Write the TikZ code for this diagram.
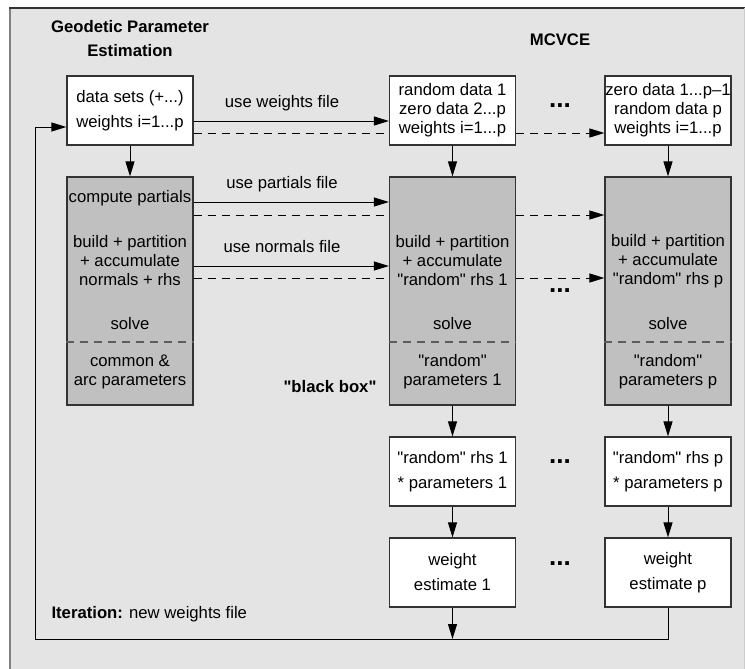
\documentclass[tikz,border=0pt]{standalone}
\usepackage{fontspec}
\setmainfont{Liberation Sans}[Ligatures=TeXOff]
\usetikzlibrary{arrows.meta}
\definecolor{panelgray}{HTML}{E4E4E4}
\definecolor{boxgray}{HTML}{C0C0C0}
\definecolor{edgegray}{HTML}{333333}
\tikzset{
  every node/.style={font=\fontsize{16.7}{19}\selectfont},
  whitebox/.style={draw=edgegray, fill=white, line width=1.2pt, minimum width=126pt,
    minimum height=69pt, inner sep=0pt, align=center},
  graybox/.style={whitebox, fill=boxgray, minimum height=228pt},
  twoline/.style={font=\fontsize{16.7}{25}\selectfont},
  headline/.style={font=\fontsize{16.7}{24}\selectfont\bfseries, align=center},
  flow/.style={-{Triangle[length=15pt,width=9pt]}, line width=1pt},
  dflow/.style={flow, dash pattern=on 8pt off 6pt},
  dline/.style={line width=1pt, dash pattern=on 8pt off 6pt},
  divider/.style={draw=edgegray!80, line width=1.1pt, dash pattern=on 8pt off 6pt},
  dots/.style={font=\fontsize{26}{26}\selectfont\bfseries}
}
\begin{document}
\begin{tikzpicture}[x=1pt, y=-1pt]
        \useasboundingbox (0,0) rectangle (745,669);
        % Panel
        \fill[panelgray] (9,7) rectangle (745,669);
        \draw[gray, line width=1.5pt] (9.75,669) -- (9.75,7);
        \draw[edgegray, line width=2pt] (9,8) -- (745,8);
        \draw[black!20, line width=1pt] (744,8) -- (744,669);

        % Titles
        \node[headline] (gpetitle) at (130,39) {Geodetic Parameter\\Estimation};
        \node[headline] (mcvcetitle) at (560,40) {MCVCE};
        \node[headline] (blackbox) at (330,387) {"black box"};

        % Top row
        \node[whitebox, twoline] (data) at (130,110.5) {data sets (+...)\\weights i=1...p};
        \node[whitebox] (rnd1) at (452.5,110.5) {random data 1\\zero data 2...p\\weights i=1...p};
        \node[whitebox] (rndp) at (668,110.5) {zero data 1...p–1\\random data p\\weights i=1...p};

        % Gray boxes
        \node[graybox] (gpe) at (130,291) {};
        \node[graybox] (sol1) at (452.5,291) {};
        \node[graybox] (solp) at (668,291) {};
        \draw[divider] (gpe.west |- 0,342) -- (gpe.east |- 0,342);
        \draw[divider] (sol1.west |- 0,342) -- (sol1.east |- 0,342);
        \draw[divider] (solp.west |- 0,342) -- (solp.east |- 0,342);

        \node (cpart) at (130,198) {compute partials};
        \node[align=center] (bpa) at (130,261) {build + partition\\+ accumulate\\normals + rhs};
        \node (solvegpe) at (130,324) {solve};
        \node[align=center] (common) at (130,371.5) {common \&\\arc parameters};

        \node[align=center] (bpa1) at (452.5,261) {build + partition\\+ accumulate\\"random" rhs 1};
        \node (solve1) at (452.5,324) {solve};
        \node[align=center] (par1) at (452.5,371.5) {"random"\\parameters 1};

        \node[align=center] (bpap) at (668,261) {build + partition\\+ accumulate\\"random" rhs p};
        \node (solvep) at (668,324) {solve};
        \node[align=center] (parp) at (668,371.5) {"random"\\parameters p};

        % Lower rows
        \node[whitebox, twoline] (rhs1) at (452.5,471.5) {"random" rhs 1\\* parameters 1};
        \node[whitebox, twoline] (rhsp) at (668,471.5) {"random" rhs p\\* parameters p};
        \node[whitebox, twoline] (w1) at (452.5,572.5) {weight\\estimate 1};
        \node[whitebox, twoline] (wp) at (668,572.5) {weight\\estimate p};

        % Dots
        \node[dots] (dotsa) at (560,106) {...};
        \node[dots] (dotsb) at (560,291) {...};
        \node[dots] (dotsc) at (560,462) {...};
        \node[dots] (dotsd) at (560,564) {...};

        % File arrows
        \node (lblw) at (282,103) {use weights file};
        \node (lblp) at (282,184) {use partials file};
        \node (lbln) at (282,247) {use normals file};
        \draw[flow] ([yshift=-10.5pt]data.east) -- ([yshift=-10.5pt]rnd1.west);
        \draw[dline] ([yshift=-22.5pt]data.east) -- ([yshift=-22.5pt]rnd1.west);
        \draw[dflow] ([yshift=-22.5pt]rnd1.east) -- ([yshift=-22.5pt]rndp.west);
        \draw[flow] ([yshift=89pt]gpe.east) -- ([yshift=89pt]sol1.west);
        \draw[dline] ([yshift=76pt]gpe.east) -- ([yshift=76pt]sol1.west);
        \draw[dflow] ([yshift=76pt]sol1.east) -- ([yshift=76pt]solp.west);
        \draw[flow] ([yshift=25pt]gpe.east) -- ([yshift=25pt]sol1.west);
        \draw[dline] ([yshift=13pt]gpe.east) -- ([yshift=13pt]sol1.west);
        \draw[dflow] ([yshift=13pt]sol1.east) -- ([yshift=13pt]solp.west);

        % Vertical arrows
        \draw[flow] (data) -- (gpe);
        \draw[flow] (rnd1) -- (sol1);
        \draw[flow] (rndp) -- (solp);
        \draw[flow] (sol1) -- (rhs1);
        \draw[flow] (solp) -- (rhsp);
        \draw[flow] (rhs1) -- (w1);
        \draw[flow] (rhsp) -- (wp);

        % Iteration loop
        \coordinate (loopc) at (35,639);
        \node[anchor=west] (iterlbl) at (48,614) {\textbf{Iteration:} new weights file};
        \draw[flow] (wp.south) |- (loopc) |- ([yshift=-16.5pt]data.west);
        \draw[flow] (w1.south) -- (w1.south |- loopc);
\end{tikzpicture}
\end{document}
